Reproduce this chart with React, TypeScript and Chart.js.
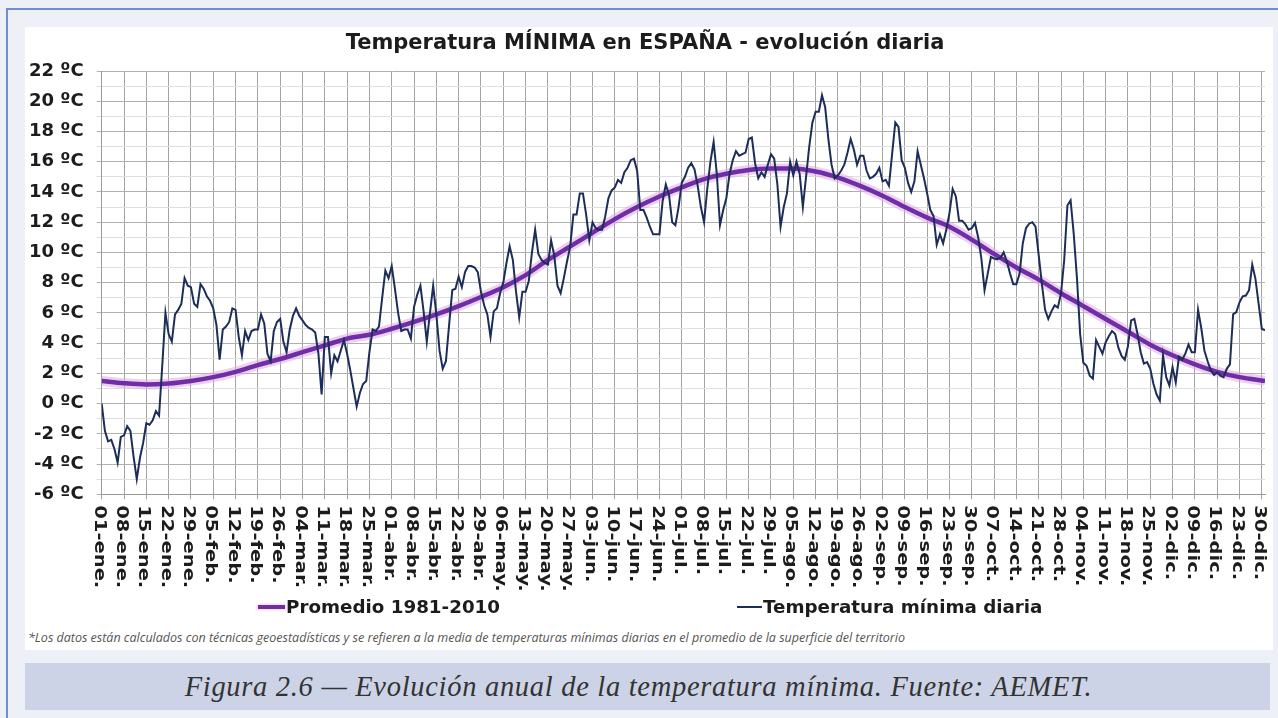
import React, { useEffect, useRef } from 'react';
import { Chart, registerables } from 'chart.js';

Chart.register(...registerables);

// ---------- DATA ----------
const TITLE = 'Temperatura MÍNIMA en ESPAÑA - evolución diaria';
const SERIES_AVG = 'Promedio 1981-2010';
const SERIES_DAILY = 'Temperatura mínima diaria';
const FOOTNOTE =
  '*Los datos están calculados con técnicas geoestadísticas y se refieren a la media de temperaturas mínimas diarias en el promedio de la superficie del territorio';
const CAPTION = 'Figura 2.6 — Evolución anual de la temperatura mínima. Fuente: AEMET.';

// weekly tick labels (one every 7 days, starting 01-ene.)
const tickLabels: string[] = [
  '01-ene.', '08-ene.', '15-ene.', '22-ene.', '29-ene.', '05-feb.', '12-feb.', '19-feb.', '26-feb.',
  '04-mar.', '11-mar.', '18-mar.', '25-mar.', '01-abr.', '08-abr.', '15-abr.', '22-abr.', '29-abr.',
  '06-may.', '13-may.', '20-may.', '27-may.', '03-jun.', '10-jun.', '17-jun.', '24-jun.', '01-jul.',
  '08-jul.', '15-jul.', '22-jul.', '29-jul.', '05-ago.', '12-ago.', '19-ago.', '26-ago.', '02-sep.',
  '09-sep.', '16-sep.', '23-sep.', '30-sep.', '07-oct.', '14-oct.', '21-oct.', '28-oct.', '04-nov.',
  '11-nov.', '18-nov.', '25-nov.', '02-dic.', '09-dic.', '16-dic.', '23-dic.', '30-dic.',
];

// daily minimum temperature (ºC), day 0 = 01-ene. (leap year, 366 days)
const dailyMin: number[] = [
  0.0, -1.8, -2.5, -2.4, -3.0, -3.9, -2.2, -2.1, -1.5, -1.8,
  -3.5, -5.0, -3.6, -2.6, -1.3, -1.4, -1.1, -0.5, -0.8, 2.5,
  6.0, 4.6, 4.1, 5.9, 6.2, 6.6, 8.3, 7.8, 7.7, 6.6,
  6.4, 7.9, 7.6, 7.1, 6.8, 6.3, 5.2, 2.9, 4.9, 5.1,
  5.4, 6.3, 6.2, 4.4, 3.2, 4.8, 4.2, 4.8, 4.9, 4.9,
  5.9, 5.3, 3.3, 2.8, 4.8, 5.4, 5.6, 4.1, 3.4, 4.9,
  5.8, 6.3, 5.8, 5.5, 5.2, 5.0, 4.9, 4.7, 3.3, 0.6,
  4.4, 4.4, 2.0, 3.2, 2.8, 3.5, 4.2, 3.3, 2.2, 1.0,
  -0.2, 0.7, 1.3, 1.5, 3.4, 4.9, 4.8, 5.1, 7.0, 8.8,
  8.3, 9.1, 7.6, 6.0, 4.8, 4.9, 4.9, 4.3, 6.4, 7.2,
  7.8, 6.1, 4.1, 6.0, 7.8, 5.9, 3.5, 2.3, 2.8, 5.2,
  7.5, 7.6, 8.4, 7.7, 8.7, 9.1, 9.1, 9.0, 8.7, 7.4,
  6.5, 5.9, 4.4, 6.1, 6.3, 7.3, 8.0, 9.3, 10.4, 9.5,
  7.4, 5.7, 7.4, 7.4, 8.1, 10.0, 11.5, 9.9, 9.5, 9.3,
  9.2, 10.8, 9.8, 7.8, 7.3, 8.3, 9.4, 10.4, 12.5, 12.5,
  13.9, 13.9, 12.5, 10.8, 12.0, 11.6, 11.5, 11.5, 12.4, 13.6,
  14.1, 14.3, 14.8, 14.6, 15.3, 15.6, 16.1, 16.2, 15.4, 12.8,
  12.8, 12.3, 11.7, 11.2, 11.2, 11.2, 13.4, 14.5, 13.8, 12.0,
  11.8, 13.0, 14.6, 15.0, 15.6, 15.9, 15.5, 14.4, 13.0, 12.0,
  14.2, 16.0, 17.3, 15.2, 11.8, 12.8, 13.6, 15.2, 16.1, 16.7,
  16.4, 16.5, 16.6, 17.5, 17.6, 15.9, 14.9, 15.3, 15.0, 15.8,
  16.5, 16.2, 14.5, 11.7, 13.0, 13.9, 16.0, 15.1, 16.0, 15.2,
  13.0, 15.0, 17.0, 18.6, 19.3, 19.3, 20.4, 19.6, 17.5, 15.8,
  14.9, 15.1, 15.4, 15.8, 16.6, 17.5, 16.8, 15.8, 16.4, 16.4,
  15.4, 14.9, 15.0, 15.2, 15.6, 14.7, 14.8, 14.4, 16.5, 18.6,
  18.3, 16.1, 15.6, 14.6, 14.0, 14.7, 16.7, 15.8, 14.9, 13.9,
  12.8, 12.4, 10.5, 11.2, 10.6, 11.5, 12.6, 14.2, 13.7, 12.1,
  12.1, 11.85, 11.5, 11.6, 11.95, 11.0, 9.6, 7.5, 8.6, 9.7,
  9.6, 9.55, 9.65, 10.0, 9.4, 8.6, 7.9, 7.9, 8.6, 10.6,
  11.6, 11.9, 12.0, 11.7, 9.8, 7.9, 6.2, 5.6, 6.1, 6.5,
  6.35, 7.3, 9.5, 13.1, 13.45, 11.2, 8.3, 4.6, 2.7, 2.5,
  1.85, 1.65, 4.2, 3.75, 3.3, 4.05, 4.45, 4.8, 4.6, 3.7,
  3.15, 2.9, 3.8, 5.5, 5.6, 4.6, 3.4, 2.65, 2.75, 2.3,
  1.3, 0.6, 0.2, 3.2, 1.75, 1.2, 2.4, 1.4, 3.1, 2.9,
  3.3, 3.9, 3.4, 3.4, 6.2, 5.0, 3.5, 2.8, 2.2, 1.9,
  2.05, 1.85, 1.75, 2.3, 2.6, 5.9, 6.05, 6.7, 7.1, 7.15,
  7.5, 9.2, 8.25, 6.6, 4.95, 4.85,
];

// 1981-2010 average, sampled weekly (day index -> ºC)
const avgDays: number[] = [
  0, 7, 14, 21, 28, 35, 42, 49, 56, 63, 70, 77, 84, 91, 98, 105, 112, 119, 126, 133, 140, 147,
  154, 161, 168, 175, 182, 189, 196, 203, 210, 217, 224, 231, 238, 245, 252, 259, 266, 273, 280,
  287, 294, 301, 308, 315, 322, 329, 336, 343, 350, 357, 365,
];
const avgValues: number[] = [
  1.5, 1.35, 1.27, 1.33, 1.5, 1.75, 2.1, 2.55, 2.95, 3.4, 3.85, 4.3, 4.55, 4.95, 5.4, 5.9, 6.45,
  7.05, 7.7, 8.5, 9.5, 10.4, 11.3, 12.2, 13.0, 13.7, 14.3, 14.85, 15.2, 15.45, 15.55, 15.55, 15.35,
  14.95, 14.4, 13.75, 13.0, 12.3, 11.7, 10.85, 9.9, 9.0, 8.2, 7.3, 6.45, 5.6, 4.75, 3.9, 3.2, 2.6,
  2.1, 1.75, 1.5,
];

const AVG_COLOR = '#6f2da8';
const AVG_GLOW = 'rgba(222, 170, 222, 0.55)';
const DAILY_COLOR = '#1b2d58';
const TEXT_COLOR = '#1c1c1c';
const FONT = '"DejaVu Sans", Verdana, sans-serif';

// draws the weekly date labels rotated clockwise (reading top to bottom)
const xLabelsPlugin = {
  id: 'xLabelsDown',
  afterDraw(chart: any) {
    const xs = chart.scales.x;
    const ctx = chart.ctx;
    ctx.save();
    ctx.font = 'bold 15px ' + FONT;
    ctx.fillStyle = TEXT_COLOR;
    ctx.textAlign = 'left';
    ctx.textBaseline = 'middle';
    xs.ticks.forEach((t: any) => {
      const label = tickLabels[Math.round(t.value / 7)];
      if (!label) return;
      const px = xs.getPixelForValue(t.value);
      ctx.save();
      ctx.translate(px, xs.top + 11);
      ctx.rotate(Math.PI / 2);
      ctx.scale(1.3, 1);
      ctx.fillText(label, 0, 3);
      ctx.restore();
    });
    ctx.restore();
  },
};

function TempChart() {
  const ref = useRef<HTMLCanvasElement | null>(null);

  useEffect(() => {
    if (!ref.current) return;
    const dailyPoints = dailyMin.map((v, i) => ({ x: i, y: v }));
    const avgPoints = avgDays.map((d, i) => ({ x: d, y: avgValues[i] }));

    const chart = new Chart(ref.current, {
      type: 'line',
      data: {
        datasets: [
          {
            label: 'glow',
            data: avgPoints,
            borderColor: AVG_GLOW,
            borderWidth: 10,
            pointRadius: 0,
            cubicInterpolationMode: 'monotone',
            order: 2,
          },
          {
            label: SERIES_AVG,
            data: avgPoints,
            borderColor: AVG_COLOR,
            borderWidth: 4.5,
            pointRadius: 0,
            cubicInterpolationMode: 'monotone',
            order: 1,
          },
          {
            label: SERIES_DAILY,
            data: dailyPoints,
            borderColor: DAILY_COLOR,
            borderWidth: 2,
            pointRadius: 0,
            tension: 0,
            order: 0,
          },
        ],
      },
      options: {
        animation: false,
        responsive: false,
        devicePixelRatio: 1,
        layout: { padding: { left: 0, right: 8, top: 0, bottom: 0 } },
        plugins: {
          legend: { display: false },
          tooltip: { enabled: false },
          title: {
            display: true,
            text: TITLE,
            color: TEXT_COLOR,
            font: { family: FONT, size: 21, weight: 'bold' },
            padding: { top: 4.4, bottom: 14.4 },
          },
        },
        scales: {
          x: {
            type: 'linear',
            min: 0,
            max: 365,
            ticks: { stepSize: 7, includeBounds: false, display: false, autoSkip: false },
            grid: { color: '#a3a3a3', tickLength: 5 },
            border: { color: '#9a9a9a' },
            afterFit: (s: any) => {
              s.height = 102.7;
            },
          },
          y: {
            min: -6,
            max: 22,
            ticks: {
              stepSize: 1,
              autoSkip: false,
              padding: 13,
              color: TEXT_COLOR,
              font: { family: FONT, size: 18, weight: 'bold' },
              callback: (v: any) => (Number(v) % 2 === 0 ? `${v} ºC` : ''),
            },
            grid: {
              tickLength: 5,
              color: (c: any) =>
                c.tick && Math.abs(c.tick.value) % 2 === 0 ? '#b0b0b0' : '#dedede',
            },
            border: { color: '#9a9a9a' },
            afterFit: (s: any) => {
              s.width = 76.7;
            },
          },
        },
      },
      plugins: [xLabelsPlugin],
    } as any);

    return () => chart.destroy();
  }, []);

  return <canvas ref={ref} width={1248} height={570} style={{ display: 'block' }} />;
}

export default function App() {
  const legendText: React.CSSProperties = {
    position: 'absolute',
    top: 596,
    fontFamily: FONT,
    fontWeight: 'bold',
    fontSize: 18.3,
    color: TEXT_COLOR,
    lineHeight: '22px',
    whiteSpace: 'nowrap',
  };
  return (
    <div
      style={{
        position: 'fixed',
        left: 0,
        top: 0,
        width: 1278,
        height: 718,
        background: '#eef0f8',
        overflow: 'hidden',
      }}
    >
      <div
        style={{
          position: 'absolute',
          left: 6,
          top: 8,
          right: 0,
          bottom: 0,
          borderTop: '2px solid #6f8fd2',
          borderLeft: '2px solid #6f8fd2',
        }}
      />
      <div
        style={{
          position: 'absolute',
          left: 25,
          top: 27,
          width: 1248,
          height: 623,
          background: '#ffffff',
        }}
      >
        <TempChart />
      </div>
      {/* legend */}
      <div
        style={{
          position: 'absolute',
          left: 258,
          top: 605,
          width: 27,
          height: 4,
          background: AVG_COLOR,
          boxShadow: '0 0 3px 1px ' + AVG_GLOW,
        }}
      />
      <div style={{ ...legendText, left: 286 }}>{SERIES_AVG}</div>
      <div
        style={{
          position: 'absolute',
          left: 737,
          top: 606,
          width: 25,
          height: 2,
          background: DAILY_COLOR,
        }}
      />
      <div style={{ ...legendText, left: 763 }}>{SERIES_DAILY}</div>
      {/* footnote */}
      <div
        style={{
          position: 'absolute',
          left: 28,
          top: 629,
          fontFamily: '"Liberation Sans Narrow", "Open Sans", sans-serif',
          fontStyle: 'italic',
          fontSize: 12.5,
          color: '#555',
          whiteSpace: 'nowrap',
        }}
      >
        {FOOTNOTE}
      </div>
      {/* caption */}
      <div
        style={{
          position: 'absolute',
          left: 25,
          top: 663,
          width: 1245,
          height: 47,
          boxSizing: 'border-box',
          paddingRight: 18,
          background: '#cdd3e6',
          display: 'flex',
          alignItems: 'center',
          justifyContent: 'center',
          fontFamily: '"Liberation Serif", serif',
          fontStyle: 'italic',
          fontSize: 28.5,
          letterSpacing: 0.7,
          color: '#333',
          whiteSpace: 'nowrap',
        }}
      >
        {CAPTION}
      </div>
    </div>
  );
}
